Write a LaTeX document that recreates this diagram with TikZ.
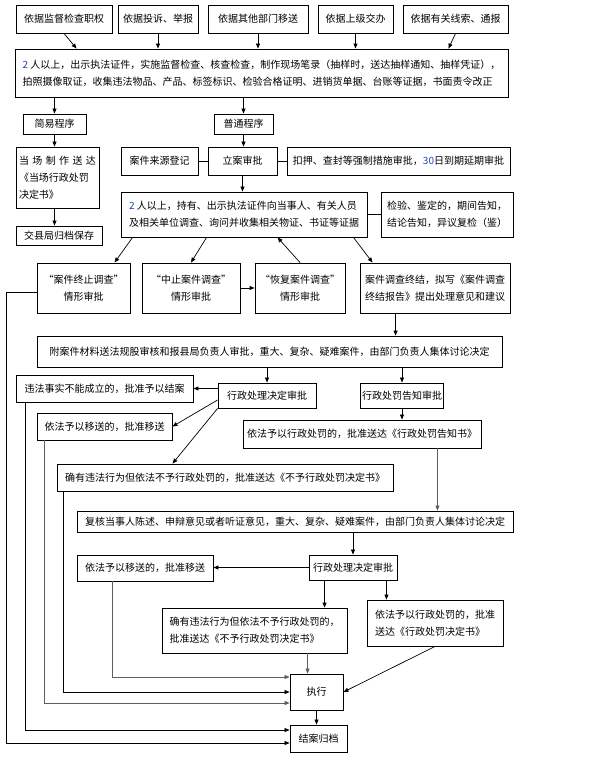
\documentclass[tikz,border=0pt]{standalone}
\usepackage{fontspec}
\setmainfont{Noto Sans CJK SC}
\usetikzlibrary{arrows.meta,calc}
\definecolor{NumBlue}{HTML}{1F3FBF}
\definecolor{LineGray}{HTML}{5E5E5E}

\begin{document}
\begin{tikzpicture}[x=1pt,y=-1pt,
  every node/.style={font=\fontsize{10}{17}\selectfont},
  box/.style={draw, line width=0.9pt, inner xsep=1.5pt, inner ysep=2pt, align=center},
  arr/.style={-{Triangle[length=5pt,width=4pt]}, line width=0.7pt}]
  \useasboundingbox (0,0) rectangle (610,757);
  % sources of the case
  \foreach \nm/\cx/\w/\txt in {s1/64/96/依据监督检查职权, s2/158/80/依据投诉、举报,
      s3/258/100/依据其他部门移送, s4/355.5/75/依据上级交办, s5/455.5/105/依据有关线索、通报}{
    \node[box, minimum width=\w pt, minimum height=28pt] (\nm) at (\cx,19) {\txt};
  }
  \node[box, minimum width=493pt, minimum height=48pt, align=left] (jc) at (261.5,73)
    {\textcolor{NumBlue}{2} 人以上，出示执法证件，实施监督检查、核查检查，制作现场笔录（抽样时，送达抽样通知、抽样凭证），\\
     拍照摄像取证，收集违法物品、产品、标签标识、检验合格证明、进销货单据、台账等证据，书面责令改正};
  \draw[arr] (s1.south) -- ([xshift=62pt]jc.north west);
  \draw[arr] (s2.south) -- (s2.south |- jc.north);
  \draw[arr] (s3.south) -- (s3.south |- jc.north);
  \draw[arr] (s4.south) -- (s4.south |- jc.north);
  \draw[arr] (s5.south) -- ([xshift=-60pt]jc.north east);
  % two procedures
  \node[box, minimum width=63pt, minimum height=20pt] (jy) at (54.5,124) {简易程序};
  \node[box, minimum width=59pt, minimum height=20pt] (pt) at (243.5,124) {普通程序};
  \draw[arr] (jc.south -| jy) -- (jy.north);
  \draw[arr] (jc.south -| pt) -- (pt.north);
  % simple procedure
  \node[box, minimum width=83pt, minimum height=61pt, text width=77pt, align=left] (dc) at (57.5,177.5)
    {当\hfill 场\hfill 制\hfill 作\hfill 送\hfill 达\\《当场行政处罚\\决定书》};
  \node[box, minimum width=86pt, minimum height=19pt] (gd) at (59,235.5) {交县局归档保存};
  \draw[arr] (jy.south) -- (jy.south |- dc.north);
  \draw[arr] (jy.south |- dc.south) -- (jy.south |- gd.north);
  % filing of the case
  \node[box, minimum width=77pt, minimum height=28pt] (ly) at (159.5,161) {案件来源登记};
  \node[box, minimum width=69pt, minimum height=28pt] (la) at (242.5,161) {立案审批};
  \node[box, minimum width=223pt, minimum height=28pt] (kc) at (398.5,161)
    {扣押、查封等强制措施审批，\textcolor{NumBlue}{30}日到期延期审批};
  \draw (ly.east) -- (la.west);
  \draw (la.east) -- (kc.west);
  \draw[arr] (pt.south) -- (pt.south |- la.north);
  % investigation
  \node[box, minimum width=246pt, minimum height=45pt, align=left] (dq) at (244,214.5)
    {\textcolor{NumBlue}{2} 人以上，持有、出示执法证件向当事人、有关人员\\及相关单位调查、询问并收集相关物证、书证等证据};
  \node[box, minimum width=132pt, minimum height=45pt, align=left] (jd) at (447,214.5)
    {检验、鉴定的，期间告知，\\结论告知，异议复检（鉴）};
  \draw (dq.east) -- (jd.west);
  \draw[arr] (la.south) -- (la.south |- dq.north);
  % four branches
  \node[box, minimum width=93pt, minimum height=50pt] (zz) at (83.5,288) {“案件终止调查”\\情形审批};
  \node[box, minimum width=98pt, minimum height=50pt] (zs) at (191,288) {“中止案件调查”\\情形审批};
  \node[box, minimum width=90pt, minimum height=50pt] (hf) at (300,288) {“恢复案件调查”\\情形审批};
  \node[box, minimum width=150pt, minimum height=50pt, align=left] (zj) at (435,288)
    {案件调查终结，拟写《案件调查\\终结报告》提出处理意见和建议};
  \draw[arr] ([xshift=12pt]dq.south west) -- ([xshift=78pt]zz.north west);
  \draw[arr] ([xshift=86pt]dq.south west) -- (zs.north);
  \draw[arr] (hf.north) -- ([xshift=157pt]dq.south west);
  \draw[arr] ([xshift=-14pt]dq.south east) -- ([xshift=13pt]zj.north west);
  \draw[arr] (zs.east) -- (hf.west);
  % review and approval
  \node[box, minimum width=465pt, minimum height=31pt] (fs) at (269.5,351.5)
    {附案件材料送法规股审核和报县局负责人审批，重大、复杂、疑难案件，由部门负责人集体讨论决定};
  \draw[arr] ([xshift=36pt]zj.south west) -- ([xshift=36pt]zj.south west |- fs.north);
  % first decision
  \node[box, minimum width=177pt, minimum height=27pt] (bc) at (104.5,388.5) {违法事实不能成立的，批准予以结案};
  \node[box, minimum width=98pt, minimum height=25pt] (cs1) at (267,395.5) {行政处理决定审批};
  \node[box, minimum width=82pt, minimum height=25pt] (gz) at (402,395.5) {行政处罚告知审批};
  \draw[arr] (fs.south -| cs1) -- (cs1.north);
  \draw[arr] (fs.south -| gz) -- (gz.north);
  \draw[arr] (cs1.west |- bc.east) -- (bc.east);
  \node[box, minimum width=135pt, minimum height=27pt] (ys1) at (104.5,426.5) {依法予以移送的，批准移送};
  \node[box, minimum width=336pt, minimum height=27pt] (bz1) at (225,477.5)
    {确有违法行为但依法不予行政处罚的，批准送达《不予行政处罚决定书》};
  \draw[arr] ([yshift=-4.5pt]cs1.west) -- (ys1.east);
  \draw[arr] (cs1.south west) -- ([xshift=116pt]bz1.north west);
  \node[box, minimum width=238pt, minimum height=28pt] (gs) at (362,434)
    {依法予以行政处罚的，批准送达《行政处罚告知书》};
  \draw[arr] (gz.south) -- (gz.south |- gs.north);
  % hearing and second decision
  \node[box, minimum width=436pt, minimum height=21pt] (fh) at (295,521.5)
    {复核当事人陈述、申辩意见或者听证意见，重大、复杂、疑难案件，由部门负责人集体讨论决定};
  \draw[arr, LineGray] ([xshift=-44pt]gs.south east) -- ([xshift=-44pt]gs.south east |- fh.north);
  \node[box, minimum width=88pt, minimum height=25pt] (cs2) at (353,567.5) {行政处理决定审批};
  \draw[arr] (cs2.north |- fh.south) -- (cs2.north);
  \node[box, minimum width=136pt, minimum height=26pt] (ys2) at (145,568) {依法予以移送的，批准移送};
  \draw[arr] (cs2.west) -- (cs2.west -| ys2.east);
  \node[box, minimum width=185pt, minimum height=45pt, align=left] (bz2) at (254.5,630.5)
    {确有违法行为但依法不予行政处罚的，\\批准送达《不予行政处罚决定书》};
  \node[box, minimum width=136pt, minimum height=46pt, align=left] (cf) at (435,623)
    {依法予以行政处罚的，批准\\送达《行政处罚决定书》};
  \draw[arr] ([xshift=16pt]cs2.south west) -- ([xshift=16pt]cs2.south west |- bz2.north);
  \draw[arr] ([xshift=-11pt]cs2.south east) -- ([xshift=-11pt]cs2.south east |- cf.north);
  % execution and closing
  \node[box, minimum width=53pt, minimum height=36pt] (zx) at (316.5,692) {执行};
  \node[box, minimum width=57pt, minimum height=27pt] (ga) at (318.5,738.5) {结案归档};
  \draw[arr, LineGray] ([xshift=146pt]bz2.south west) -- ([xshift=146pt]bz2.south west |- zx.north);
  \draw[arr] (cf.south) -- (zx.east);
  \draw[arr] (zx.south) -- (zx.south |- ga.north);
  % returns on the left
  \draw[arr] ([yshift=-4pt]zz.west) -- ++(-30,0) |- ([yshift=-4.5pt]ga.west);
  \draw[arr] ([xshift=10pt]bc.south west) |- ([yshift=8.5pt]ga.west);
  \draw[arr, LineGray] ([xshift=8pt]ys1.south west) |- ([yshift=-11pt]zx.west);
  \draw[arr] ([xshift=7pt]bz1.south west) |- (zx.west);
  \draw[arr, LineGray] ([xshift=36pt]ys2.south west) |- ([yshift=15pt]zx.west);
\end{tikzpicture}
\end{document}
